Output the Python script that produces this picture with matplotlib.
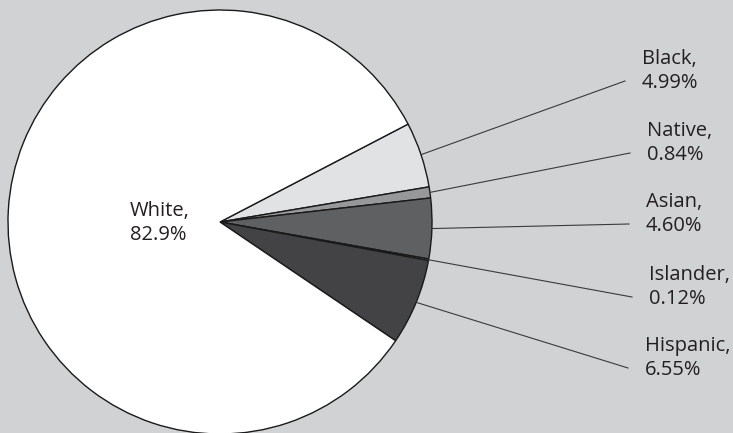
import numpy as np
import matplotlib
matplotlib.use("Agg")
import matplotlib.pyplot as plt

plt.rcParams['font.family'] = ['Open Sans', 'DejaVu Sans']

# data
groups = ["Black", "Native", "Asian", "Islander", "Hispanic", "White"]
shares = [4.99, 0.84, 4.60, 0.12, 6.55, 82.9]
share_text = ["4.99%", "0.84%", "4.60%", "0.12%", "6.55%", "82.9%"]
colors = ["#e1e2e4", "#97989a", "#5f6062", "#cfd0d2", "#434345", "#ffffff"]

# layout (pixel units of a 733x433 figure)
W, H = 733, 433
cx, cy, R = 220, 222, 212
label_end_x = [625, 630, 629, 632, 628]
label_end_y = [81, 153, 224, 297, 368]

fig = plt.figure(figsize=(W / 100, H / 100), dpi=100)
fig.patch.set_facecolor("#d1d2d4")
ax = fig.add_axes([0, 0, 1, 1])
ax.set_facecolor("#d1d2d4")

wedges, _ = ax.pie(shares, colors=colors, startangle=27.5, counterclock=False,
                   radius=1, center=(0, 0),
                   wedgeprops=dict(edgecolor="#1a1a1a", linewidth=1.0))

ax.set_xlim(-cx / R, (W - cx) / R)
ax.set_ylim(-(H - cy) / R, cy / R)
ax.set_aspect("equal")
ax.axis("off")

def to_data(px, py):
    return (px - cx) / R, (cy - py) / R

for i, w in enumerate(wedges[:-1]):
    mid = np.deg2rad((w.theta1 + w.theta2) / 2)
    x0, y0 = np.cos(mid), np.sin(mid)
    x1, y1 = to_data(label_end_x[i], label_end_y[i])
    ax.plot([x0, x1], [y0, y1], color="#3a3a3a", lw=0.8)
    tx, ty = to_data(label_end_x[i] + 17, label_end_y[i] - 10)
    ax.text(tx, ty, groups[i] + ",\n" + share_text[i], ha="left", va="center",
            fontsize=14.5, color="#231f20", linespacing=1.25)

wx, wy = to_data(130, 223)
ax.text(wx, wy, groups[-1] + ",\n" + share_text[-1], ha="left", va="center",
        fontsize=14.5, color="#231f20", linespacing=1.25)

fig.savefig("out.png", dpi=100, facecolor=fig.get_facecolor())
